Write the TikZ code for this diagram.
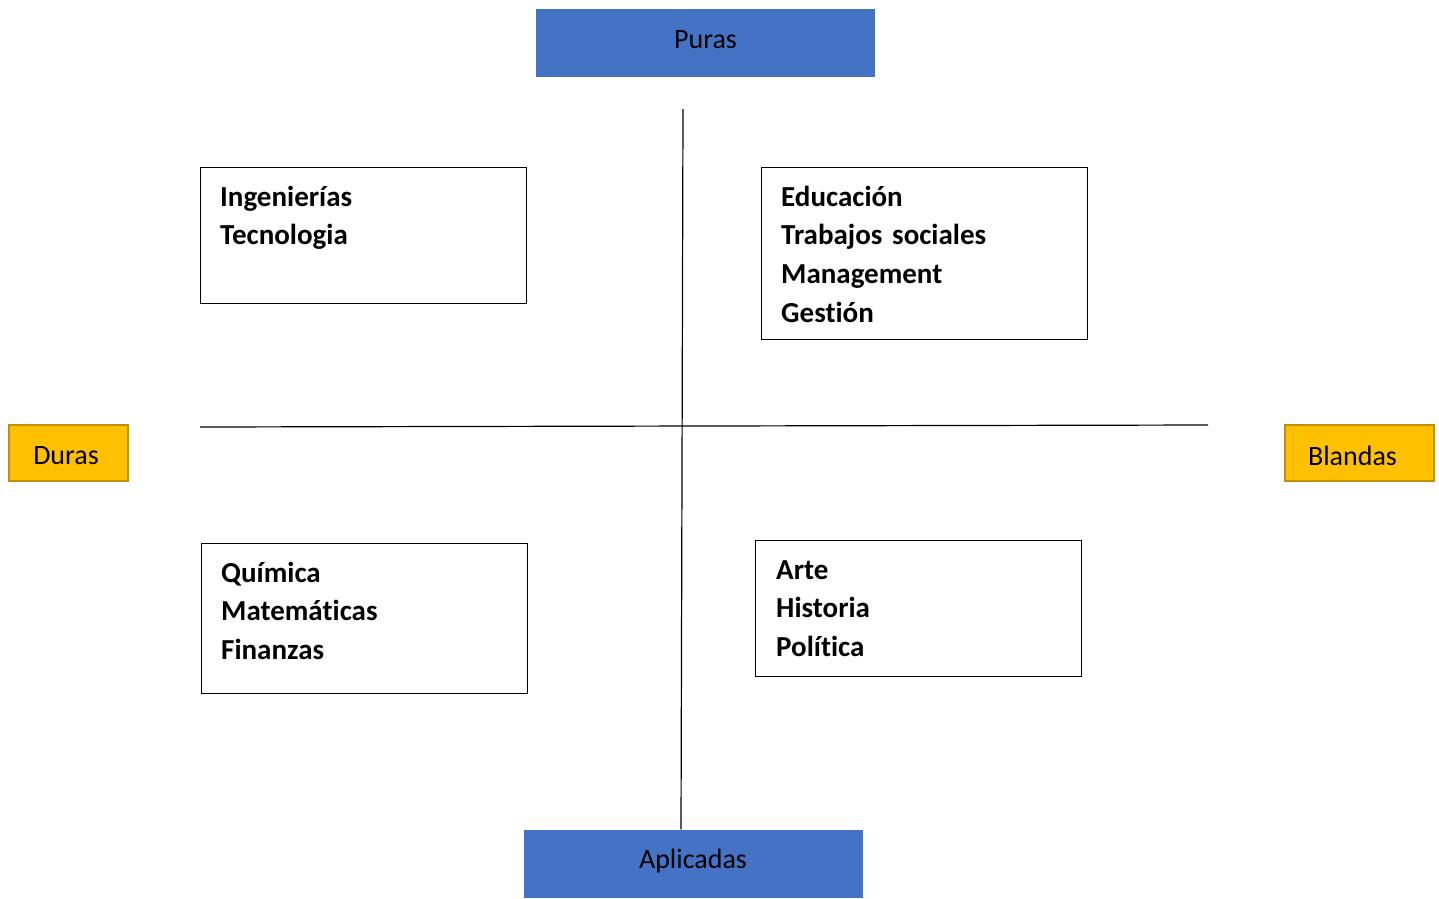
\documentclass[tikz,border=0pt]{standalone}
\usepackage{fontspec}
\setmainfont[Ligatures=NoCommon]{Carlito}
\definecolor{axisblue}{HTML}{4472C4}
\definecolor{gold}{HTML}{FFC000}
\definecolor{golddark}{HTML}{BF9000}
\begin{document}
\begin{tikzpicture}[x=1pt,y=-1pt,
  bluebox/.style={fill=axisblue,draw=none,minimum width=339pt,minimum height=68pt,inner sep=0pt,font=\fontsize{28}{34}\selectfont},
  goldbox/.style={fill=gold,draw=golddark,line width=2pt,minimum height=56pt,inner sep=0pt,font=\fontsize{28}{34}\selectfont},
  qbox/.style={draw=black,line width=1.6pt,anchor=north west,minimum width=326pt,inner sep=0pt},
  qtext/.style={anchor=base west,align=left,text width=300pt,inner sep=0pt,font=\fontsize{29}{38.7}\selectfont\bfseries},
  axis/.style={draw=black,line width=1.2pt}]
\useasboundingbox (0,0) rectangle (1439,898);
% axis end boxes
\node[bluebox] (puras) at (705.5,43) {\smash{\raisebox{-5pt}{Puras}}};
\node[bluebox] (aplicadas) at (693,863.5) {\smash{\raisebox{-4.5pt}{Aplicadas}}};
\node[goldbox,minimum width=119pt] (duras) at (68.5,453) {\hspace*{-5pt}\smash{\raisebox{-11pt}{Duras}}};
\node[goldbox,minimum width=149pt] (blandas) at (1359.5,453) {\hspace*{-14pt}\smash{\raisebox{-12pt}{Blandas}}};
% axes
\coordinate (vtop) at (683,109);
\coordinate (hleft) at (200,427);
\coordinate (hright) at (1208,425);
\draw[axis] (vtop) -- (aplicadas.north -| 681,0);
\draw[axis] (hleft) -- (hright);
% quadrant boxes
\node[qbox,minimum height=136pt] (q1) at (199.5,166.5) {};
\node[qtext] (t1) at (220,206) {Ingenierías\\Tecnologia};
\node[qbox,minimum height=172pt] (q2) at (760.5,166.5) {};
\node[qtext] (t2) at (781,206) {Educación\\Trabajos sociales\\Management\\Gestión};
\node[qbox,minimum height=150pt] (q3) at (200.5,542.5) {};
\node[qtext] (t3) at (221,582) {Química\\Matemáticas\\Finanzas};
\node[qbox,minimum height=136pt] (q4) at (754.5,539.5) {};
\node[qtext] (t4) at (776,579) {Arte\\Historia\\Política};
\end{tikzpicture}
\end{document}
